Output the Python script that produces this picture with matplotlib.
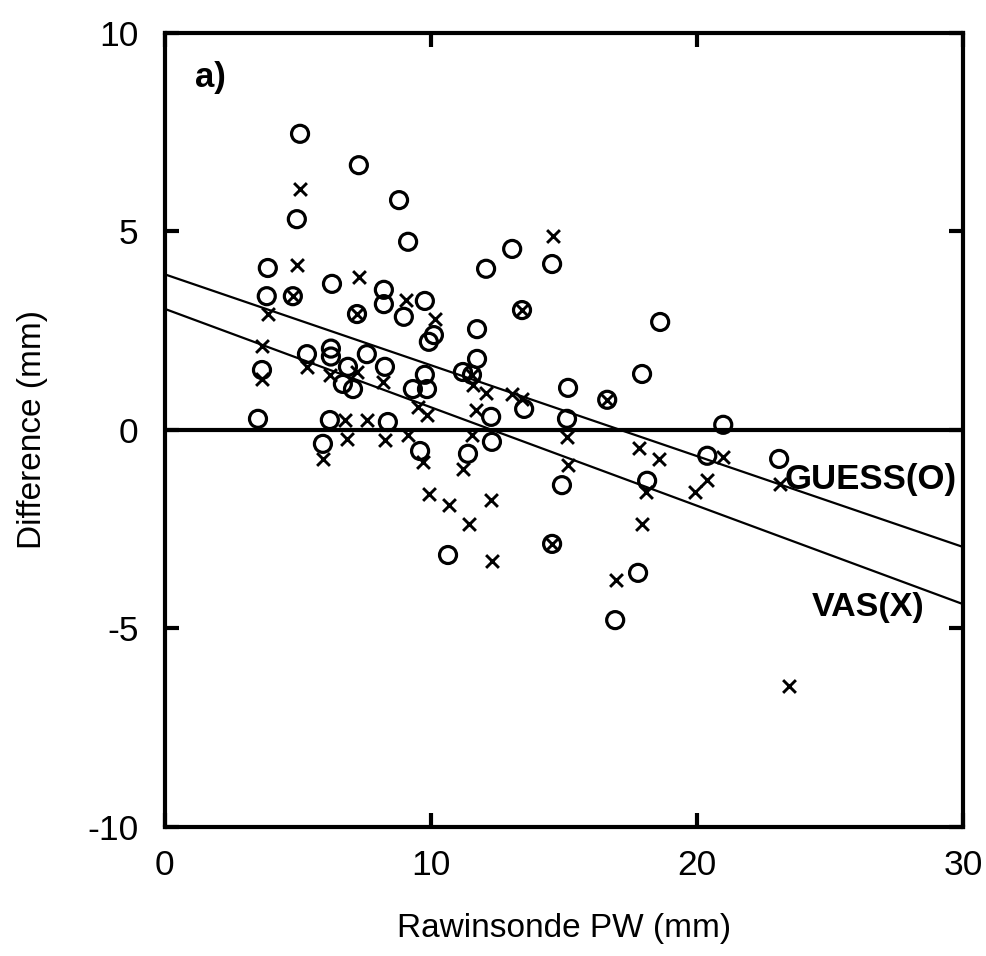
import matplotlib
matplotlib.use("Agg")
import matplotlib.pyplot as plt
import numpy as np

plt.rcParams['font.family'] = ['Liberation Sans', 'DejaVu Sans']

# GUESS (O) points: rawinsonde PW vs difference
guess_x = [5.08, 7.29, 8.80, 9.14, 4.96, 3.87, 6.28, 3.83, 4.81, 7.22, 8.23, 8.23, 9.77, 8.98,
           13.05, 14.55, 12.07, 13.42, 18.61, 10.11, 9.92, 11.73, 11.73, 11.20, 11.54,
           5.34, 6.24, 6.24, 7.59, 6.88, 6.69, 7.07, 8.27, 9.77, 9.32, 9.85, 3.65,
           3.50, 6.20, 8.38, 5.94, 9.59, 13.50, 15.15, 15.11, 16.62, 17.93, 12.26, 12.29,
           11.39, 14.92, 18.12, 20.38, 20.98, 23.08, 10.64, 14.55, 17.78, 16.92]
guess_y = [7.46, 6.67, 5.79, 4.74, 5.31, 4.08, 3.68, 3.37, 3.37, 2.92, 3.53, 3.17, 3.25, 2.85,
           4.56, 4.18, 4.06, 3.02, 2.72, 2.39, 2.22, 2.54, 1.79, 1.46, 1.39,
           1.91, 2.05, 1.85, 1.91, 1.59, 1.16, 1.03, 1.59, 1.39, 1.03, 1.03, 1.51,
           0.28, 0.25, 0.20, -0.35, -0.53, 0.53, 1.06, 0.28, 0.76, 1.41, 0.33, -0.30,
           -0.60, -1.39, -1.28, -0.65, 0.13, -0.73, -3.15, -2.87, -3.60, -4.79]

# VAS (X) points
vas_x = [5.08, 4.96, 7.29, 4.81, 3.87, 7.22, 9.06, 10.15, 14.59, 13.42, 3.65, 5.34, 7.22,
         6.20, 8.20, 9.51, 9.85, 3.65, 6.77, 7.59, 6.84, 5.94, 8.27, 9.14, 9.70, 9.92,
         11.54, 11.58, 12.07, 13.05, 13.42, 11.69, 11.54, 11.20, 15.11, 15.15, 16.62,
         17.82, 18.57, 20.98, 23.12, 18.08, 20.38, 19.92, 17.93, 16.95, 23.46, 10.68,
         12.26, 11.43, 12.29, 14.55]
vas_y = [6.07, 4.15, 3.85, 3.37, 2.92, 2.92, 3.27, 2.80, 4.89, 3.02, 2.12, 1.59, 1.46,
         1.38, 1.21, 0.58, 0.38, 1.28, 0.25, 0.25, -0.23, -0.73, -0.25, -0.13, -0.81, -1.61,
         1.39, 1.13, 0.93, 0.91, 0.78, 0.50, -0.13, -0.98, -0.18, -0.88, 0.76,
         -0.45, -0.73, -0.68, -1.36, -1.56, -1.26, -1.56, -2.37, -3.78, -6.45, -1.88,
         -1.76, -2.37, -3.30, -2.87]

# Regression lines (intercept, slope)
guess_fit = (3.92, -0.229)
vas_fit = (3.05, -0.248)

x_ticks = [0, 10, 20, 30]
y_ticks = [-10, -5, 0, 5, 10]
y_tick_labels = ['-10', '-5', '0', '5', '10']

fig = plt.figure(figsize=(9.87, 9.56), dpi=100)
ax = fig.add_axes([0.167, 0.135, 0.809, 0.8305])

ax.scatter(guess_x, guess_y, s=150, facecolors='none', edgecolors='black', linewidths=2.3, zorder=3)
ax.scatter(vas_x, vas_y, s=85, marker='x', color='black', linewidths=2.1, zorder=3)

xl = np.array([0, 30])
ax.plot(xl, guess_fit[0] + guess_fit[1] * xl, color='black', lw=1.6, zorder=2)
ax.plot(xl, vas_fit[0] + vas_fit[1] * xl, color='black', lw=1.6, zorder=2)
ax.axhline(0, color='black', lw=3, zorder=2)

ax.set_xlim(0, 30)
ax.set_ylim(-10, 10)
ax.set_xticks(x_ticks)
ax.set_yticks(y_ticks)
ax.set_yticklabels(y_tick_labels)
ax.tick_params(direction='in', length=10, width=3, labelsize=25.5, top=True, right=True)
ax.tick_params(axis='x', pad=16)
ax.tick_params(axis='y', pad=19)
for s in ax.spines.values():
    s.set_linewidth(3)

ax.set_xlabel('Rawinsonde PW (mm)', fontsize=24, labelpad=22)
ax.set_ylabel('Difference (mm)', fontsize=24, labelpad=28)

ax.text(1.13, 8.89, 'a)', fontsize=25, fontweight='bold', va='center', ha='left')
ax.text(23.3, -1.25, 'GUESS(O)', fontsize=25, fontweight='bold', va='center', ha='left')
ax.text(24.3, -4.48, 'VAS(X)', fontsize=24.5, fontweight='bold', va='center', ha='left')

fig.savefig('out.png', dpi=100)
